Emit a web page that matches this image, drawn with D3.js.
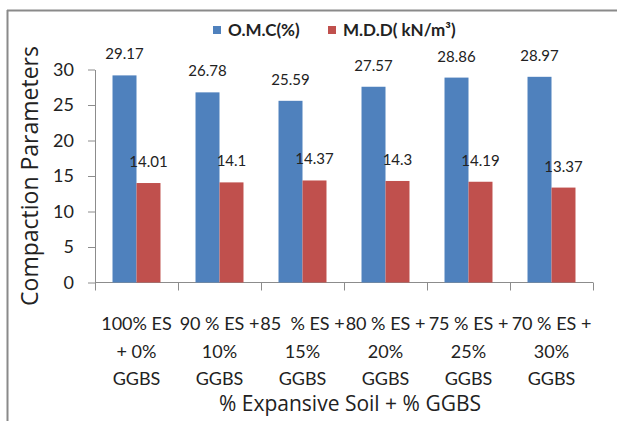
<!DOCTYPE html>
<html>
<head>
<meta charset="utf-8">
<script src="https://cdn.jsdelivr.net/npm/d3@7"></script>
<style>
  html, body { margin: 0; padding: 0; background: #fff; }
  svg { display: block; }
  text { fill: #222; white-space: pre; }
</style>
</head>
<body>
<svg id="chart" width="617" height="421"></svg>
<script>
// Mix compositions (three-line category labels)
const categories = [
  ["100% ES", "+ 0%", "GGBS"],
  ["90 % ES +", "10%", "GGBS"],
  ["85  % ES +", "15%", "GGBS"],
  ["80 % ES +", "20%", "GGBS"],
  ["75 % ES +", "25%", "GGBS"],
  ["70 % ES +", "30%", "GGBS"]
];
const omcValues = [29.17, 26.78, 25.59, 27.57, 28.86, 28.97];
const mddValues = [14.01, 14.1, 14.37, 14.3, 14.19, 13.37];
const seriesNames = ["O.M.C(%)", "M.D.D( kN/m³)"];
const yTicks = [0, 5, 10, 15, 20, 25, 30];

const svg = d3.select("#chart");
const axisColor = "#8c8c8c";
const colors = ["#4F81BD", "#C0504D"];
const font = "Lato, 'Open Sans', sans-serif";

// frame
svg.append("line").attr("x1", 7).attr("x2", 617).attr("y1", 10.5).attr("y2", 10.5)
  .attr("stroke", "#8a8a8a").attr("stroke-width", 2);
svg.append("line").attr("x1", 7.5).attr("x2", 7.5).attr("y1", 10).attr("y2", 421)
  .attr("stroke", "#8a8a8a").attr("stroke-width", 2);

const idx = d3.range(categories.length);
const x = d3.scaleBand().domain(idx).range([95, 593]).paddingInner(0).paddingOuter(0);
const xs = d3.scaleBand().domain([0, 1]).range([0, x.bandwidth()]).paddingInner(0).paddingOuter(0.73);
const y = d3.scaleLinear().domain([0, 30]).range([282.5, 69.5]);

// y axis
const yAxis = svg.append("g").attr("transform", "translate(95,0)")
  .call(d3.axisLeft(y).tickValues(yTicks).tickSize(7).tickPadding(14).tickSizeOuter(0));
yAxis.select(".domain").attr("stroke", axisColor);
yAxis.selectAll(".tick line").attr("stroke", axisColor);
yAxis.selectAll(".tick text").attr("font-family", font).attr("font-size", 18).attr("fill", "#222");

// x axis: baseline plus category boundary ticks
const bounds = idx.map(i => x(i)).concat([x.range()[1]]);
const xg = svg.append("g");
xg.append("line").attr("x1", 95).attr("x2", 593).attr("y1", y(0)).attr("y2", y(0))
  .attr("stroke", axisColor);
xg.selectAll("line.b").data(bounds).join("line").attr("class", "b")
  .attr("x1", d => Math.round(d) + 0.5).attr("x2", d => Math.round(d) + 0.5)
  .attr("y1", y(0)).attr("y2", y(0) + 8).attr("stroke", axisColor);

// bars
const series = [omcValues, mddValues];
series.forEach((vals, s) => {
  svg.append("g").selectAll("rect").data(vals).join("rect")
    .attr("x", (d, i) => x(i) + xs(s))
    .attr("y", d => y(d))
    .attr("width", xs.bandwidth())
    .attr("height", d => y(0) - y(d))
    .attr("fill", colors[s]);
  svg.append("g").selectAll("text").data(vals).join("text")
    .attr("x", (d, i) => x(i) + xs(s) + xs.bandwidth() / 2)
    .attr("y", d => y(d) - 16)
    .attr("text-anchor", "middle")
    .attr("font-family", font).attr("font-size", 15)
    .text(d => d);
});

// category labels
const catG = svg.append("g").selectAll("text").data(categories).join("text")
  .attr("text-anchor", "middle")
  .attr("font-family", font).attr("font-size", 18);
catG.each(function(lines, i) {
  d3.select(this).selectAll("tspan").data(lines).join("tspan")
    .attr("x", x(i) + x.bandwidth() / 2)
    .attr("y", (d, j) => 330 + j * 27.5)
    .text(d => d);
});

// axis titles
svg.append("text").attr("x", 350).attr("y", 411)
  .attr("text-anchor", "middle").attr("font-family", "'Open Sans', sans-serif").attr("font-size", 21)
  .attr("fill", "#333").text("% Expansive Soil + % GGBS");
svg.append("text").attr("transform", "translate(38,176) rotate(-90)")
  .attr("text-anchor", "middle").attr("font-family", "'Open Sans', sans-serif").attr("font-size", 23)
  .attr("fill", "#333").text("Compaction Parameters");

// legend
const legendX = [213, 328];
const lg = svg.append("g");
seriesNames.forEach((name, s) => {
  lg.append("rect").attr("x", legendX[s]).attr("y", 26).attr("width", 8).attr("height", 8)
    .attr("fill", colors[s]);
  lg.append("text").attr("x", legendX[s] + 15).attr("y", 36)
    .attr("font-family", font).attr("font-size", 17).attr("font-weight", "bold")
    .attr("fill", "#222").text(name);
});
</script>
</body>
</html>
